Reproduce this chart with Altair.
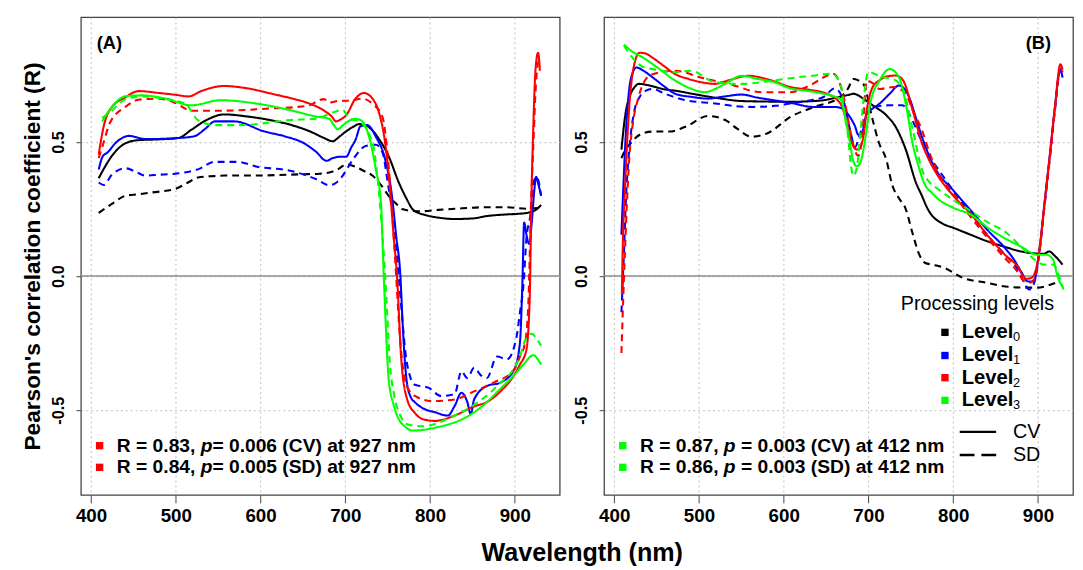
import altair as alt
import pandas as pd

FONT = "Liberation Sans, Arial, sans-serif"

# ---------------- Panel A data (wavelength nm, Pearson R) ----------------
a_l0_cv_wl = [409, 415, 425, 441, 456, 480, 503, 518, 535, 557, 585, 611, 640, 658, 675, 685, 693, 701, 710, 716, 722, 728, 740, 751, 763, 772, 779, 787, 794, 810, 829, 850, 867, 890, 907, 913, 920, 926, 931]
a_l0_cv_r = [0.365, 0.40, 0.45, 0.496, 0.507, 0.51, 0.515, 0.545, 0.58, 0.603, 0.595, 0.582, 0.56, 0.54, 0.515, 0.503, 0.52, 0.54, 0.558, 0.567, 0.565, 0.555, 0.51, 0.448, 0.35, 0.29, 0.251, 0.235, 0.228, 0.218, 0.213, 0.215, 0.224, 0.23, 0.233, 0.235, 0.24, 0.25, 0.265]

a_l0_sd_wl = [409, 425, 441, 456, 472, 499, 515, 526, 545, 557, 596, 630, 651, 670, 681, 692, 701, 712, 722, 732, 742, 751, 760, 767, 780, 790, 810, 829, 867, 890, 914, 931]
a_l0_sd_r = [0.236, 0.27, 0.30, 0.305, 0.312, 0.325, 0.35, 0.368, 0.373, 0.375, 0.375, 0.378, 0.38, 0.382, 0.386, 0.40, 0.417, 0.408, 0.392, 0.375, 0.34, 0.30, 0.27, 0.25, 0.243, 0.242, 0.247, 0.251, 0.257, 0.257, 0.251, 0.255]

a_l1_cv_wl = [409, 414, 419, 430, 445, 464, 503, 522, 535, 546, 569, 604, 630, 651, 665, 678, 685, 693, 701, 707, 712, 718, 726, 736, 747, 755, 760, 765, 768, 772, 777, 782, 790, 806, 821, 829, 837, 844, 848, 852, 867, 883, 899, 906, 909, 911, 914, 917, 920, 923, 925, 928, 931]
a_l1_cv_r = [0.398, 0.448, 0.46, 0.50, 0.523, 0.511, 0.515, 0.522, 0.55, 0.577, 0.577, 0.54, 0.52, 0.496, 0.465, 0.43, 0.44, 0.445, 0.445, 0.48, 0.508, 0.559, 0.563, 0.52, 0.435, 0.30, 0.15, 0.0, -0.2, -0.38, -0.45, -0.47, -0.49, -0.508, -0.52, -0.484, -0.435, -0.47, -0.515, -0.46, -0.41, -0.397, -0.35, -0.25, -0.02, 0.20, 0.15, 0.12, 0.20, 0.32, 0.37, 0.34, 0.30]

a_l1_sd_wl = [409, 415, 425, 441, 452, 464, 480, 499, 526, 546, 573, 596, 635, 666, 681, 690, 697, 709, 724, 736, 744, 750, 757, 763, 767, 771, 776, 782, 798, 813, 829, 837, 844, 852, 860, 867, 879, 891, 902, 906, 910, 914, 918, 922, 926, 931]
a_l1_sd_r = [0.349, 0.34, 0.38, 0.402, 0.39, 0.375, 0.378, 0.382, 0.398, 0.426, 0.426, 0.408, 0.393, 0.361, 0.339, 0.35, 0.375, 0.435, 0.485, 0.49, 0.46, 0.35, 0.20, 0.0, -0.15, -0.287, -0.37, -0.405, -0.416, -0.447, -0.44, -0.355, -0.38, -0.342, -0.37, -0.38, -0.30, -0.31, -0.227, -0.137, -0.04, 0.15, 0.22, 0.35, 0.37, 0.30]

a_l2_cv_wl = [409, 415, 422, 441, 456, 480, 500, 515, 530, 557, 581, 616, 640, 658, 674, 684, 689, 695, 701, 712, 722, 732, 740, 747, 752, 757, 761, 766, 773, 782, 793, 806, 829, 852, 867, 883, 899, 906, 913.6, 917.6, 919.6, 921.6, 924.6, 927.5, 929.6]
a_l2_cv_r = [0.453, 0.56, 0.619, 0.668, 0.69, 0.683, 0.676, 0.67, 0.69, 0.709, 0.702, 0.678, 0.66, 0.643, 0.619, 0.595, 0.577, 0.585, 0.60, 0.662, 0.683, 0.662, 0.607, 0.496, 0.35, 0.15, 0.0, -0.31, -0.46, -0.51, -0.535, -0.54, -0.52, -0.486, -0.47, -0.43, -0.37, -0.33, -0.276, -0.08, 0.288, 0.533, 0.778, 0.833, 0.766]

a_l2_sd_wl = [409, 415, 422, 441, 456, 480, 500, 518, 557, 611, 640, 658, 669, 675, 681, 693, 705, 720, 732, 744, 750, 755, 760, 765, 770, 776, 782, 802, 829, 852, 875, 899, 906, 912, 916, 919, 922, 925, 928, 930]
a_l2_sd_r = [0.44, 0.50, 0.57, 0.632, 0.658, 0.662, 0.645, 0.617, 0.617, 0.625, 0.63, 0.637, 0.656, 0.66, 0.647, 0.654, 0.654, 0.662, 0.643, 0.592, 0.45, 0.25, 0.0, -0.25, -0.38, -0.43, -0.447, -0.466, -0.46, -0.43, -0.397, -0.35, -0.30, -0.25, -0.10, 0.25, 0.50, 0.72, 0.80, 0.78]

a_l3_cv_wl = [413, 422, 441, 460, 488, 518, 553, 596, 635, 666, 681, 686, 691, 698, 705, 712, 720, 728, 736, 742, 745, 748, 751, 757, 763, 770, 779, 808, 846, 867, 883, 899, 910, 922, 927, 931]
a_l3_cv_r = [0.577, 0.62, 0.671, 0.674, 0.662, 0.637, 0.656, 0.643, 0.619, 0.595, 0.587, 0.565, 0.548, 0.565, 0.58, 0.587, 0.577, 0.52, 0.398, 0.276, 0.03, -0.20, -0.38, -0.48, -0.533, -0.56, -0.576, -0.564, -0.52, -0.47, -0.42, -0.37, -0.33, -0.295, -0.31, -0.33]

a_l3_sd_wl = [413, 422, 441, 460, 488, 511, 526, 546, 576, 635, 666, 685, 697, 705, 716, 728, 735, 740, 745, 748, 752, 758, 765, 771, 790, 829, 852, 879, 906, 912, 920, 926, 931]
a_l3_sd_r = [0.59, 0.61, 0.66, 0.67, 0.66, 0.643, 0.582, 0.563, 0.563, 0.582, 0.587, 0.61, 0.62, 0.587, 0.577, 0.53, 0.45, 0.30, 0.10, -0.05, -0.30, -0.45, -0.52, -0.55, -0.56, -0.52, -0.48, -0.41, -0.30, -0.24, -0.215, -0.235, -0.26]

# ---------------- Panel B data ----------------
b_l0_cv_wl = [408.5, 413, 418, 424, 429, 440, 457, 475, 492, 520, 550, 580, 608, 630, 647, 665, 678, 682, 694, 705, 721, 732, 744, 756, 763, 770, 775, 785, 802, 820, 841, 860, 880, 895, 907, 913, 920, 929]
b_l0_cv_r = [0.472, 0.60, 0.668, 0.705, 0.717, 0.712, 0.698, 0.69, 0.68, 0.665, 0.653, 0.651, 0.65, 0.652, 0.656, 0.668, 0.677, 0.68, 0.662, 0.637, 0.60, 0.557, 0.472, 0.349, 0.30, 0.25, 0.226, 0.20, 0.178, 0.155, 0.129, 0.11, 0.092, 0.085, 0.083, 0.092, 0.075, 0.043]

b_l0_sd_wl = [408.5, 413, 418, 425, 434, 445, 465, 484, 511, 531, 545, 562, 581, 608, 636, 667, 676, 682, 688, 694, 705, 712, 721, 728, 736, 744, 752, 760, 767, 775, 790, 811, 840, 865, 888, 899, 912, 926]
b_l0_sd_r = [0.44, 0.47, 0.49, 0.515, 0.533, 0.539, 0.539, 0.557, 0.597, 0.582, 0.55, 0.52, 0.533, 0.594, 0.631, 0.668, 0.70, 0.735, 0.73, 0.717, 0.582, 0.50, 0.435, 0.34, 0.29, 0.25, 0.16, 0.08, 0.049, 0.043, 0.03, -0.006, -0.025, -0.04, -0.043, -0.043, -0.035, -0.018]

b_l1_cv_wl = [408.5, 411, 414, 418, 422, 426, 435, 445, 458, 472, 492, 511, 530, 550, 570, 588, 610, 634, 659, 669, 678, 684, 688, 692, 698, 705, 713, 725, 736, 742, 748, 755, 763, 779, 800, 822, 841, 861, 872, 880, 888, 895, 901, 908, 915, 920, 926.5, 929]
b_l1_cv_r = [0.154, 0.35, 0.55, 0.705, 0.76, 0.778, 0.765, 0.742, 0.71, 0.68, 0.668, 0.662, 0.67, 0.677, 0.665, 0.656, 0.645, 0.631, 0.631, 0.625, 0.594, 0.56, 0.527, 0.533, 0.607, 0.625, 0.643, 0.68, 0.711, 0.70, 0.667, 0.60, 0.52, 0.40, 0.32, 0.24, 0.17, 0.105, 0.06, 0.018, -0.02, -0.02, 0.08, 0.28, 0.48, 0.63, 0.77, 0.74]

b_l1_sd_wl = [408.5, 411, 414, 418, 424, 430, 437.6, 445, 460, 484, 519, 540, 563, 590, 608, 630, 647, 660, 670, 678, 684, 690, 698, 705, 725, 740, 752, 759, 767, 782, 802, 822, 841, 861, 875, 883, 889.6, 895, 901, 908, 915, 920, 926.5, 929]
b_l1_sd_r = [-0.135, 0.05, 0.30, 0.48, 0.62, 0.668, 0.692, 0.698, 0.68, 0.656, 0.644, 0.635, 0.631, 0.635, 0.644, 0.655, 0.668, 0.70, 0.66, 0.55, 0.48, 0.53, 0.60, 0.63, 0.637, 0.637, 0.58, 0.53, 0.47, 0.40, 0.31, 0.227, 0.15, 0.08, 0.03, -0.02, -0.05, -0.03, 0.07, 0.27, 0.47, 0.62, 0.77, 0.75]

b_l2_cv_wl = [409, 410, 413, 418, 423, 429.8, 437, 445, 458, 472, 488, 503, 519, 535, 558, 585, 608, 630, 651, 667, 672, 678, 686, 690, 694, 698, 705, 713, 722, 732.5, 741, 752, 763, 772, 782, 800, 822, 841, 861, 875, 886, 893, 901, 908, 915, 920, 926.5, 929]
b_l2_cv_r = [-0.067, 0.10, 0.35, 0.643, 0.78, 0.833, 0.83, 0.815, 0.785, 0.753, 0.735, 0.723, 0.717, 0.73, 0.747, 0.73, 0.705, 0.695, 0.68, 0.643, 0.60, 0.52, 0.472, 0.48, 0.52, 0.62, 0.705, 0.73, 0.745, 0.748, 0.729, 0.62, 0.497, 0.43, 0.374, 0.30, 0.227, 0.15, 0.08, 0.04, -0.01, -0.005, 0.08, 0.28, 0.48, 0.63, 0.79, 0.77]

b_l2_sd_wl = [408.5, 411, 414, 418, 422, 428, 434, 445, 472, 503, 535, 574, 608, 630, 659, 666, 672, 678, 684, 688, 692, 698, 705, 713, 729, 744, 752, 763, 772, 782, 802, 822, 841, 861, 875, 884, 890, 896, 901, 908, 915, 920, 926.5, 929]
b_l2_sd_r = [-0.287, -0.05, 0.20, 0.45, 0.57, 0.66, 0.717, 0.753, 0.766, 0.74, 0.717, 0.686, 0.686, 0.71, 0.754, 0.72, 0.65, 0.55, 0.47, 0.448, 0.50, 0.729, 0.72, 0.698, 0.705, 0.68, 0.62, 0.545, 0.46, 0.386, 0.30, 0.215, 0.14, 0.067, 0.02, -0.02, -0.025, -0.01, 0.08, 0.27, 0.47, 0.62, 0.78, 0.76]

b_l3_cv_wl = [411.5, 420, 434, 450, 472, 490, 507, 519, 535, 550, 570, 589, 608, 630, 647, 660, 667, 672, 678, 682, 686, 690, 694, 698, 702, 713, 725, 736, 744, 752, 760, 766, 775, 782, 800, 822, 841, 861, 880, 899, 910, 918, 923, 929]
b_l3_cv_r = [0.864, 0.84, 0.815, 0.78, 0.729, 0.70, 0.686, 0.698, 0.725, 0.747, 0.735, 0.723, 0.70, 0.69, 0.68, 0.67, 0.66, 0.60, 0.50, 0.43, 0.41, 0.42, 0.47, 0.55, 0.643, 0.729, 0.772, 0.742, 0.643, 0.496, 0.40, 0.345, 0.31, 0.288, 0.255, 0.227, 0.18, 0.141, 0.11, 0.08, 0.08, 0.06, 0.0, -0.04]

b_l3_sd_wl = [411.5, 420, 434, 445, 472, 490, 519, 550, 588, 612, 634, 656, 667, 672, 676, 679, 682, 686, 690, 695, 699.5, 717, 729, 741, 752, 763, 772, 782, 802, 822, 841, 861, 880, 899, 907, 918, 925, 930]
b_l3_sd_r = [0.86, 0.82, 0.78, 0.772, 0.76, 0.766, 0.723, 0.717, 0.729, 0.74, 0.747, 0.755, 0.717, 0.60, 0.52, 0.42, 0.374, 0.40, 0.52, 0.68, 0.76, 0.742, 0.735, 0.693, 0.55, 0.398, 0.35, 0.325, 0.28, 0.24, 0.20, 0.166, 0.11, 0.055, 0.043, 0.043, 0.0, -0.05]

levels = ["Level0", "Level1", "Level2", "Level3"]
level_colors = ["#000000", "#0000FF", "#FF0000", "#00FF00"]
stats = ["CV", "SD"]
x_ticks = [400, 500, 600, 700, 800, 900]
y_ticks = [-0.5, 0.0, 0.5]
zero_line = [0.0]

annot_a = [("R = 0.83, ", "p", "= 0.006 (CV) at 927 nm"), ("R = 0.84, ", "p", "= 0.005 (SD) at 927 nm")]
annot_b = [("R = 0.87, ", "p", "= 0.003 (CV) at 412 nm"), ("R = 0.86, ", "p", "= 0.003 (SD) at 412 nm")]

series_a = [
    (a_l0_cv_wl, a_l0_cv_r, "Level0", "CV"), (a_l0_sd_wl, a_l0_sd_r, "Level0", "SD"),
    (a_l1_cv_wl, a_l1_cv_r, "Level1", "CV"), (a_l1_sd_wl, a_l1_sd_r, "Level1", "SD"),
    (a_l2_cv_wl, a_l2_cv_r, "Level2", "CV"), (a_l2_sd_wl, a_l2_sd_r, "Level2", "SD"),
    (a_l3_cv_wl, a_l3_cv_r, "Level3", "CV"), (a_l3_sd_wl, a_l3_sd_r, "Level3", "SD"),
]
series_b = [
    (b_l0_cv_wl, b_l0_cv_r, "Level0", "CV"), (b_l0_sd_wl, b_l0_sd_r, "Level0", "SD"),
    (b_l1_cv_wl, b_l1_cv_r, "Level1", "CV"), (b_l1_sd_wl, b_l1_sd_r, "Level1", "SD"),
    (b_l2_cv_wl, b_l2_cv_r, "Level2", "CV"), (b_l2_sd_wl, b_l2_sd_r, "Level2", "SD"),
    (b_l3_cv_wl, b_l3_cv_r, "Level3", "CV"), (b_l3_sd_wl, b_l3_sd_r, "Level3", "SD"),
]


def build_df(series):
    frames = []
    for i, (wl, r, lev, st) in enumerate(series):
        frames.append(pd.DataFrame({"wl": wl, "r": r, "level": lev, "stat": st,
                                    "sid": f"{i}-{lev}-{st}", "k": i}))
    return pd.concat(frames, ignore_index=True)


df_a = build_df(series_a)
df_b = build_df(series_b)

H = 485
W_A = 486
W_B = 476
PX_PER_NM = W_A / (953 - 388)
X_DOM_A = [388, 953]
X_DOM_B = [388, 388 + W_B / PX_PER_NM]
Y_DOM = [-0.816, 0.966]

MINUS = "\u2212"

GRID = dict(grid=True, gridDash=[2, 3], gridColor="#bdbdbd", gridWidth=1)


def x_axis():
    return alt.Axis(values=x_ticks, title=None, domain=False, ticks=True, tickSize=8,
                    tickColor="#444444", tickWidth=1, labelFont=FONT, labelFontSize=19,
                    labelFontWeight="bold", labelColor="black", labelPadding=4,
                    labelFlush=False, format="d", **GRID)


def y_axis(title):
    kw = dict(values=y_ticks, domain=False, ticks=True, tickSize=5, tickColor="#444444",
              tickWidth=1, labelFont=FONT, labelFontSize=16.5, labelFontWeight="bold",
              labelColor="black", labelAngle=270, labelAlign="center",
              labelBaseline="alphabetic", labelPadding=13, format=".1f",
              labelExpr=f"replace(datum.label, '{MINUS}', '-')", **GRID)
    if title:
        kw.update(title=title, titleFont=FONT, titleFontSize=23, titleFontWeight="bold",
                  titleColor="black", titlePadding=6)
    else:
        kw.update(title=None)
    return alt.Axis(**kw)


one = pd.DataFrame({"a": [0]})


def txt(s, x, y, size, weight="bold", style="normal", align="left", color="black"):
    return alt.Chart(one).mark_text(text=s, font=FONT, fontSize=size, fontWeight=weight,
                                    fontStyle=style, align=align, baseline="middle",
                                    color=color).encode(x=alt.value(x), y=alt.value(y))


def square(x, y, color, size=56):
    return alt.Chart(one).mark_square(size=size, color=color, opacity=1, filled=True).encode(
        x=alt.value(x), y=alt.value(y))


def panel(df, xdom, width, title, label, label_x, annots, annot_color, with_legend, p_gap):
    xs = alt.Scale(domain=xdom, nice=False, zero=False)
    ys = alt.Scale(domain=Y_DOM, nice=False, zero=False)
    zero = alt.Chart(pd.DataFrame({"y": zero_line})).mark_rule(
        color="#8c8c8c", strokeWidth=1.5).encode(y=alt.Y("y:Q", scale=ys, axis=y_axis(title)))
    lines = alt.Chart(df).mark_line(strokeWidth=2.1, interpolate="monotone", clip=True).encode(
        x=alt.X("wl:Q", scale=xs, axis=x_axis()),
        y=alt.Y("r:Q", scale=ys, axis=y_axis(title)),
        color=alt.Color("level:N", scale=alt.Scale(domain=levels, range=level_colors), legend=None),
        strokeDash=alt.StrokeDash("stat:N", scale=alt.Scale(domain=stats, range=[[1, 0], [7, 5]]),
                                  legend=None),
        detail="sid:N",
    )
    layers = [zero, lines, txt(label, label_x, 26, 18.5)]
    for i, (t1, t2, t3) in enumerate(annots):
        yy = 435 + 22 * i
        layers.append(square(19, yy, annot_color))
        layers.append(txt(t1, 36.5, yy, 19.5))
        layers.append(txt(t2, 121.6, yy, 19.5, style="italic"))
        layers.append(txt(t3, 121.6 + p_gap, yy, 19.5))
    if with_legend:
        layers.append(txt("Processing levels", 379, 291, 20, weight="normal", align="center"))
        ly = [320, 343.5, 366, 389]
        for i, (lev, col) in enumerate(zip(levels, level_colors)):
            layers.append(square(346, ly[i], col, size=56))
            layers.append(txt(lev[:-1], 363, ly[i], 20.5))
            layers.append(txt(lev[-1], 415, ly[i] + 5, 13, weight="normal"))
        for j, (st, dash) in enumerate(zip(stats, [[1, 0], [15, 7]])):
            yy = 421 + 23.5 * j
            layers.append(alt.Chart(one).mark_rule(color="black", strokeWidth=2.4, strokeDash=dash)
                          .encode(x=alt.value(361), x2=alt.value(398), y=alt.value(yy)))
            layers.append(txt(st, 415, yy, 20, weight="normal"))
    return alt.layer(*layers).properties(width=width, height=H)


pA = panel(df_a, X_DOM_A, W_A, "Pearson's correlation coefficient (R)", "(A)", 16,
           annot_a, "#FF0000", False, 11.9)
pB = panel(df_b, X_DOM_B, W_B, None, "(B)", 428, annot_b, "#00FF00", True, 17.3)

chart = alt.hconcat(pA, pB, spacing=11).properties(
    title=alt.TitleParams("Wavelength (nm)", orient="bottom", anchor="middle", font=FONT,
                          fontSize=25.5, fontWeight="bold", color="black", offset=15, dx=35)
).configure(
    padding={"left": 13, "top": 4, "right": 0, "bottom": 0}
).configure_view(stroke="#444444", strokeWidth=1.3)

chart.save("out.html", embed_options={"renderer": "svg", "actions": False})
